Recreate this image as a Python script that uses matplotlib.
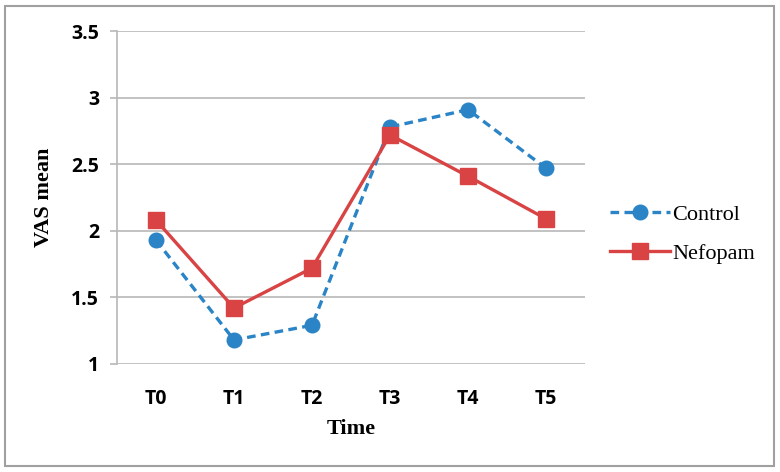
import matplotlib
matplotlib.use("Agg")
import matplotlib.pyplot as plt
from matplotlib.patches import Rectangle
from matplotlib.font_manager import FontProperties

times = ["T0", "T1", "T2", "T3", "T4", "T5"]
control = [1.93, 1.18, 1.29, 2.78, 2.91, 2.47]
nefopam = [2.08, 1.42, 1.72, 2.72, 2.41, 2.09]

blue = "#2a84c6"
red = "#d94343"
grid_col = "#b8b8b8"

fig = plt.figure(figsize=(7.8, 4.72), dpi=100)
ax = fig.add_axes([0.15, 0.229, 0.6, 0.705])

x = list(range(len(times)))
ax.plot(x, control, color=blue, lw=2.4, ls=(0, (2.6, 1.6)), marker="o",
        markersize=10.5, label="Control", zorder=3)
ax.plot(x, nefopam, color=red, lw=2.4, marker="s", markersize=11,
        label="Nefopam", zorder=4)

ax.set_xlim(-0.5, len(times) - 0.5)
ax.set_ylim(1, 3.5)
ax.set_yticks([1, 1.5, 2, 2.5, 3, 3.5])
ax.set_yticklabels(["1", "1.5", "2", "2.5", "3", "3.5"])
ax.set_xticks(x)
ax.set_xticklabels(times)
ax.yaxis.grid(True, color=grid_col, lw=1.2)
ax.set_axisbelow(True)

for s in ["top", "right", "bottom"]:
    ax.spines[s].set_visible(False)
ax.spines["left"].set_color(grid_col)
ax.spines["left"].set_linewidth(1.2)
ax.tick_params(axis="y", length=5, color=grid_col, width=1.2, pad=8)
ax.tick_params(axis="x", length=0, pad=18)
for lab in ax.get_xticklabels() + ax.get_yticklabels():
    lab.set_fontfamily("Open Sans")
    lab.set_fontweight("bold")
    lab.set_fontsize(14)

ax.set_ylabel("VAS mean", fontfamily="Liberation Serif", fontweight="bold",
              fontsize=16, labelpad=12)
ax.set_xlabel("Time", fontfamily="Liberation Serif", fontweight="bold",
              fontsize=16, labelpad=7)

leg_font = FontProperties(family="Liberation Serif", size=16)
leg = ax.legend(loc="center left", bbox_to_anchor=(1.01, 0.39), frameon=False,
                prop=leg_font, handlelength=2.7, handletextpad=0.1,
                labelspacing=0.85)
for t in leg.get_texts():
    t.set_fontproperties(leg_font)

fig.patches.append(Rectangle((0.007, 0.012), 0.985, 0.975, transform=fig.transFigure,
                             fill=False, edgecolor="#a0a0a0", lw=1.5))

fig.savefig("out.png", dpi=100)
